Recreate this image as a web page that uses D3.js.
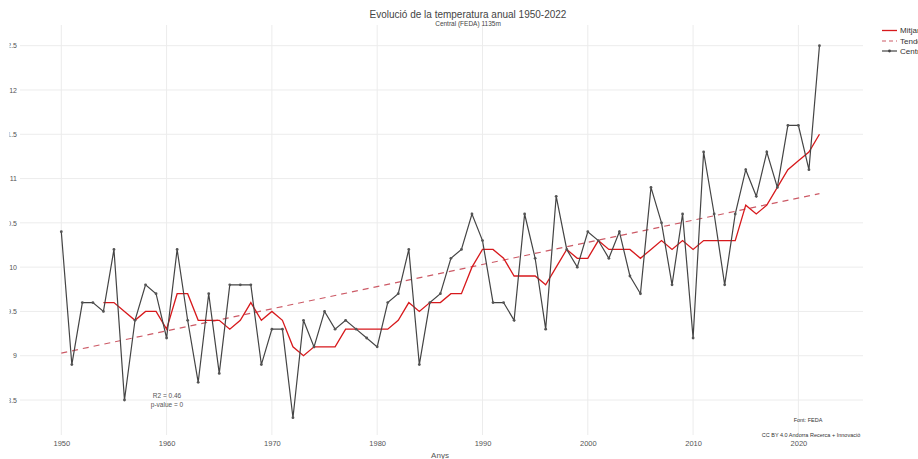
<!DOCTYPE html>
<html>
<head>
<meta charset="utf-8">
<script src="https://cdn.jsdelivr.net/npm/d3@7"></script>
<style>
  html, body { margin: 0; padding: 0; background: #fff; overflow: hidden; }
  svg { display: block; font-family: "Liberation Sans", Arial, sans-serif; }
</style>
</head>
<body>
<svg id="chart" width="918" height="459"></svg>
<script>
// ---- data ----
const years = d3.range(1950, 2023);
const central = [
  10.4, 8.9, 9.6, 9.6, 9.5, 10.2, 8.5, 9.4, 9.8, 9.7,
  9.2, 10.2, 9.4, 8.7, 9.7, 8.8, 9.8, 9.8, 9.8, 8.9,
  9.3, 9.3, 8.3, 9.4, 9.1, 9.5, 9.3, 9.4, 9.3, 9.2,
  9.1, 9.6, 9.7, 10.2, 8.9, 9.6, 9.7, 10.1, 10.2, 10.6,
  10.3, 9.6, 9.6, 9.4, 10.6, 10.1, 9.3, 10.8, 10.2, 10.0,
  10.4, 10.3, 10.1, 10.4, 9.9, 9.7, 10.9, 10.5, 9.8, 10.6,
  9.2, 11.3, 10.6, 9.8, 10.6, 11.1, 10.8, 11.3, 10.9, 11.6,
  11.6, 11.1, 12.5
];
const meanYears = d3.range(1954, 2023);
const meanValues = [
  9.6, 9.6, 9.5, 9.4, 9.5, 9.5, 9.3, 9.7, 9.7, 9.4,
  9.4, 9.4, 9.3, 9.4, 9.6, 9.4, 9.5, 9.4, 9.1, 9.0,
  9.1, 9.1, 9.1, 9.3, 9.3, 9.3, 9.3, 9.3, 9.4, 9.6,
  9.5, 9.6, 9.6, 9.7, 9.7, 10.0, 10.2, 10.2, 10.1, 9.9,
  9.9, 9.9, 9.8, 10.0, 10.2, 10.1, 10.1, 10.3, 10.2, 10.2,
  10.2, 10.1, 10.2, 10.3, 10.2, 10.3, 10.2, 10.3, 10.3, 10.3,
  10.3, 10.7, 10.6, 10.7, 10.9, 11.1, 11.2, 11.3, 11.5
];
const trendYears = [1950, 2022];
const trendValues = [9.03, 10.83];
const xTicks = [1950, 1960, 1970, 1980, 1990, 2000, 2010, 2020];
const yTicks = [8.5, 9, 9.5, 10, 10.5, 11, 11.5, 12, 12.5];
const legendLabels = ["Mitjana mòbil", "Tendència", "Central (FEDA)"];

// ---- layout ----
const svg = d3.select("#chart");
const plot = { left: 20, right: 863, top: 25, bottom: 435 };
const x = d3.scaleLinear().domain([1950, 2020]).range([61.3, 798.4]);
const y = d3.scaleLinear().domain([8.5, 12.5]).range([400, 45.7]);

const gridColor = "#ececec";
const textColor = "#555";

// grid lines
svg.append("g").selectAll("line.h").data(yTicks).join("line")
  .attr("x1", plot.left).attr("x2", plot.right)
  .attr("y1", d => y(d)).attr("y2", d => y(d))
  .attr("stroke", gridColor).attr("stroke-width", 1);
svg.append("g").selectAll("line.v").data(xTicks).join("line")
  .attr("x1", d => x(d)).attr("x2", d => x(d))
  .attr("y1", plot.top).attr("y2", plot.bottom)
  .attr("stroke", gridColor).attr("stroke-width", 1);

// y tick labels (clipped at left as in reference)
svg.append("clipPath").attr("id", "yclip").append("rect")
  .attr("x", 9.5).attr("y", 0).attr("width", 20).attr("height", 459);
const yAxis = d3.axisLeft(y).tickValues(yTicks).tickSize(0).tickPadding(0)
  .tickFormat(d => String(d));
const gy = svg.append("g").attr("clip-path", "url(#yclip)")
  .append("g").attr("transform", "translate(17,0)").call(yAxis);
gy.select(".domain").remove();
gy.selectAll("text").attr("fill", textColor).attr("font-size", 7).attr("font-family", "Liberation Sans, Arial, sans-serif");

// x tick labels
const xAxis = d3.axisBottom(x).tickValues(xTicks).tickSize(0).tickPadding(0)
  .tickFormat(d3.format("d"));
const gx = svg.append("g").attr("transform", "translate(0,441)").call(xAxis);
gx.select(".domain").remove();
gx.selectAll("text").attr("fill", textColor).attr("font-size", 7.5).attr("font-family", "Liberation Sans, Arial, sans-serif");

// trend line
svg.append("path")
  .datum(trendYears.map((yr, i) => [yr, trendValues[i]]))
  .attr("d", d3.line().x(d => x(d[0])).y(d => y(d[1])))
  .attr("fill", "none").attr("stroke", "#cc5a66")
  .attr("stroke-width", 1.2).attr("stroke-dasharray", "6,5");

// moving mean line
svg.append("path")
  .datum(meanYears.map((yr, i) => [yr, meanValues[i]]))
  .attr("d", d3.line().x(d => x(d[0])).y(d => y(d[1])))
  .attr("fill", "none").attr("stroke", "#d7191c").attr("stroke-width", 1.3);

// central series
svg.append("path")
  .datum(years.map((yr, i) => [yr, central[i]]))
  .attr("d", d3.line().x(d => x(d[0])).y(d => y(d[1])))
  .attr("fill", "none").attr("stroke", "#444").attr("stroke-width", 1.2);
svg.append("g").selectAll("circle").data(years.map((yr, i) => [yr, central[i]])).join("circle")
  .attr("cx", d => x(d[0])).attr("cy", d => y(d[1])).attr("r", 1.4)
  .attr("fill", "#555");

// title
svg.append("text").attr("x", 468).attr("y", 18).attr("text-anchor", "middle")
  .attr("font-size", 10).attr("fill", "#444")
  .text("Evolució de la temperatura anual 1950-2022");
svg.append("text").attr("x", 468).attr("y", 25.5).attr("text-anchor", "middle")
  .attr("font-size", 6.5).attr("fill", "#444")
  .text("Central (FEDA) 1135m");

// axis title
svg.append("text").attr("x", 440).attr("y", 458).attr("text-anchor", "middle")
  .attr("font-size", 8).attr("fill", textColor).text("Anys");

// annotations
svg.append("text").attr("x", 167).attr("y", 398).attr("text-anchor", "middle")
  .attr("font-size", 6.5).attr("fill", textColor).text("R2 = 0.46");
svg.append("text").attr("x", 167).attr("y", 406.5).attr("text-anchor", "middle")
  .attr("font-size", 6.5).attr("fill", textColor).text("p-value = 0");
svg.append("text").attr("x", 808).attr("y", 422).attr("text-anchor", "middle")
  .attr("font-size", 5.5).attr("fill", "#333").text("Font: FEDA");
svg.append("text").attr("x", 811).attr("y", 436.5).attr("text-anchor", "middle")
  .attr("font-size", 5.5).attr("fill", "#333").text("CC BY 4.0 Andorra Recerca + Innovació");

// legend
const legY = [30.5, 41, 51];
const leg = svg.append("g");
leg.append("line").attr("x1", 882).attr("x2", 897).attr("y1", legY[0]).attr("y2", legY[0])
  .attr("stroke", "#d7191c").attr("stroke-width", 1.3);
leg.append("line").attr("x1", 882).attr("x2", 897).attr("y1", legY[1]).attr("y2", legY[1])
  .attr("stroke", "#cc5a66").attr("stroke-width", 1.2).attr("stroke-dasharray", "4,3");
leg.append("line").attr("x1", 882).attr("x2", 897).attr("y1", legY[2]).attr("y2", legY[2])
  .attr("stroke", "#444").attr("stroke-width", 1.2);
leg.append("circle").attr("cx", 889.5).attr("cy", legY[2]).attr("r", 1.4).attr("fill", "#444");
leg.selectAll("text").data(legendLabels).join("text")
  .attr("x", 900).attr("y", (d, i) => legY[i] + 2.8)
  .attr("font-size", 8).attr("fill", "#333").text(d => d);
</script>
</body>
</html>
